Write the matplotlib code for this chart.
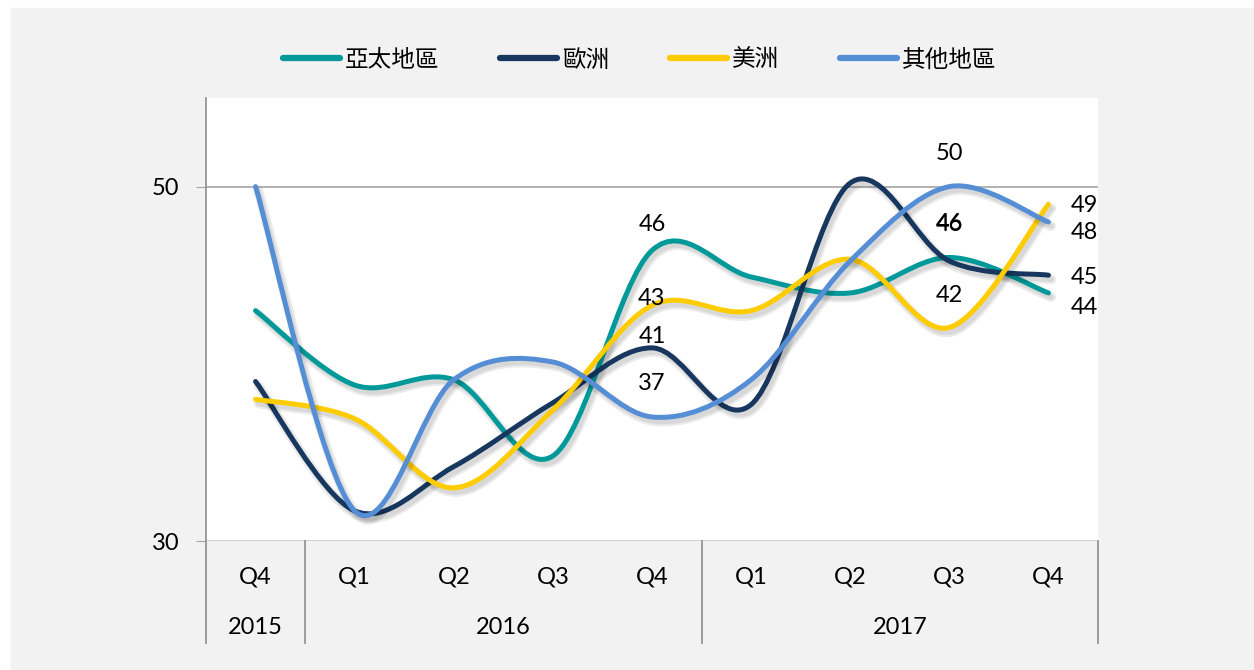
import matplotlib
matplotlib.use("Agg")
import matplotlib.pyplot as plt
from matplotlib.path import Path
from matplotlib.patches import PathPatch, Rectangle
from matplotlib.lines import Line2D
import matplotlib.patheffects as pe
import matplotlib.transforms as mtrans

# ---- data ----
quarters = ["Q4", "Q1", "Q2", "Q3", "Q4", "Q1", "Q2", "Q3", "Q4"]
years = ["2015", "2016", "2017"]
year_span = [(0, 0), (1, 4), (5, 8)]          # first/last quarter index of each year

series_names = ["亞太地區", "歐洲", "美洲", "其他地區"]
asia_pac = [43.0, 38.8, 39.1, 34.8, 46.4, 44.9, 44.0, 46.0, 44.0]
europe   = [39.0, 31.7, 34.2, 37.8, 40.9, 37.7, 50.2, 45.8, 45.0]
americas = [38.0, 36.9, 33.0, 37.4, 43.3, 43.0, 45.9, 42.05, 49.0]
others   = [50.0, 31.7, 39.1, 40.1, 37.0, 39.1, 45.8, 50.0, 48.0]
labelled = [4, 7, 8]                          # points that carry a data label

# ---- style ----
COLORS = ["#00999A", "#17375E", "#FFCC00", "#558ED5"]
# label offsets in pixels (dx, dy) for each labelled point, per series
LABEL_OFFS = [
    [(0, 26), (0, 34), (36, -15)],
    [(0, 11), (0, 37), (36, -2)],
    [(0, 7), (0, 32), (36, -1)],
    [(0, 33), (0, 33), (36, -10)],
]
NUM_FONT = "Lato"
NUM_SIZE = 17
CJK = ["Noto Sans CJK TC", "DejaVu Sans"]
W, H = 1254, 670


def smooth_path(ys):
    """Excel-like smoothed line: Catmull-Rom turned into cubic Bezier segments."""
    xs = list(range(len(ys)))
    pts = list(zip(xs, ys))
    verts = [pts[0]]; codes = [Path.MOVETO]
    n = len(pts)
    for i in range(n - 1):
        p0 = pts[i - 1] if i > 0 else pts[i]
        p1 = pts[i]; p2 = pts[i + 1]
        p3 = pts[i + 2] if i + 2 < n else pts[i + 1]
        c1 = (p1[0] + (p2[0] - p0[0]) / 6, p1[1] + (p2[1] - p0[1]) / 6)
        c2 = (p2[0] - (p3[0] - p1[0]) / 6, p2[1] - (p3[1] - p1[1]) / 6)
        verts += [c1, c2, p2]; codes += [Path.CURVE4] * 3
    return Path(verts, codes)


fig = plt.figure(figsize=(W / 100, H / 100), dpi=100, facecolor="white")
fig.patches.append(Rectangle((11 / W, 0), 1, 1 - 8 / H, transform=fig.transFigure,
                             color="#F2F2F2", zorder=-10))

ax = fig.add_axes([206 / W, 1 - 541 / H, 892 / W, 443 / H])
ax.set_facecolor("white")
ax.set_xlim(-0.5, len(quarters) - 0.5)
ax.set_ylim(30, 55)
for s in ax.spines.values():
    s.set_visible(False)

ax.set_yticks([30, 50])
ax.tick_params(axis="y", length=7, color="#A6A6A6", pad=12, labelsize=NUM_SIZE)
for t in ax.get_yticklabels():
    t.set_fontfamily(NUM_FONT)
ax.set_xticks([])
ax.axhline(50, color="#A6A6A6", lw=1.2, zorder=1)
ax.axhline(30, color="#C8C8C8", lw=1.2, zorder=1)

shadow = [pe.SimpleLineShadow(offset=(2, -3), shadow_color="#000000", alpha=0.08, linewidth=7),
          pe.SimpleLineShadow(offset=(2, -3), shadow_color="#000000", alpha=0.08, linewidth=4),
          pe.Normal()]
all_series = [asia_pac, europe, americas, others]
for k, ys in enumerate(all_series):
    patch = PathPatch(smooth_path(ys), fill=False, edgecolor=COLORS[k], lw=3.6,
                      capstyle="round", joinstyle="round", zorder=3 + k * 0.1)
    patch.set_path_effects(shadow)
    ax.add_patch(patch)
    for j, idx in enumerate(labelled):
        dx, dy = LABEL_OFFS[k][j]
        ax.annotate(f"{ys[idx]:.0f}", (idx, ys[idx]), xytext=(dx, dy),
                    textcoords="offset pixels", ha="center", va="center",
                    fontsize=NUM_SIZE, family=NUM_FONT, color="black", zorder=6)

# two-level category axis
bt = mtrans.blended_transform_factory(ax.transData, ax.transAxes)
depth = -(643 - 541) / 443
ax.plot([-0.5, -0.5], [depth, 1], transform=bt, color="#8C8C8C", lw=1.2, clip_on=False)
for (a, b) in year_span:
    ax.plot([b + 0.5, b + 0.5], [depth, 0], transform=bt, color="#8C8C8C",
            lw=1.2, clip_on=False)
for i, q in enumerate(quarters):
    ax.text(i, -(577 - 541) / 443, q, transform=bt, ha="center", va="center",
            fontsize=NUM_SIZE, family=NUM_FONT)
for yr, (a, b) in zip(years, year_span):
    ax.text((a + b) / 2, -(628 - 541) / 443, yr, transform=bt, ha="center",
            va="center", fontsize=NUM_SIZE, family=NUM_FONT)

handles = [Line2D([], [], color=c, lw=4.5, solid_capstyle="round") for c in COLORS]
fig.legend(handles, series_names, loc="center", bbox_to_anchor=(0.51, 1 - 60 / H),
           ncol=4, frameon=False, prop={"family": CJK, "size": 17},
           handlelength=2.4, handletextpad=0.2, columnspacing=2.6)

fig.savefig("out.png", dpi=100, facecolor=fig.get_facecolor())
